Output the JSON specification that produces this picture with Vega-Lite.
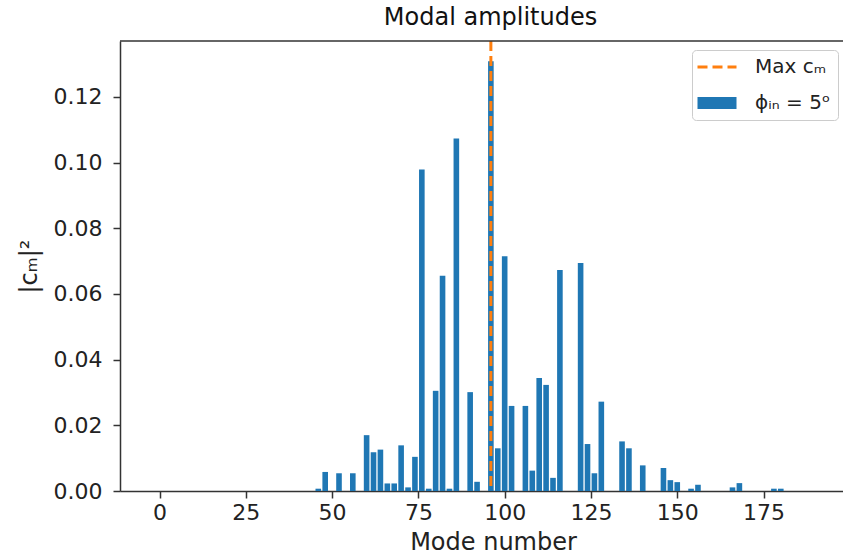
{
  "$schema": "https://vega.github.io/schema/vega-lite/v6.json",
  "autosize": {"type": "none"},
  "padding": {"left": 120, "top": 41, "right": 0, "bottom": 67},
  "width": 723,
  "height": 450,
  "background": "white",
  "title": {"text": "Modal amplitudes", "font": "DejaVu Sans", "fontSize": 24, "fontWeight": "normal", "color": "#111", "offset": 10, "dx": 9},
  "config": {
    "view": {"stroke": null},
    "axis": {"grid": false, "domainColor": "#333", "domainWidth": 1.5, "tickColor": "#333", "tickWidth": 1.5, "tickSize": 7,
      "labelFont": "DejaVu Sans", "labelFontSize": 22, "labelColor": "#222",
      "titleFont": "DejaVu Sans", "titleFontSize": 24, "titleFontWeight": "normal", "titleColor": "#222"}
  },
  "layer": [
    {
      "data": {"values": [
        {"mode": 46, "amp": 0.0007}, {"mode": 48, "amp": 0.0058}, {"mode": 52, "amp": 0.0054}, {"mode": 56, "amp": 0.0054},
        {"mode": 60, "amp": 0.0170}, {"mode": 62, "amp": 0.0118}, {"mode": 64, "amp": 0.0126}, {"mode": 66, "amp": 0.0023},
        {"mode": 68, "amp": 0.0023}, {"mode": 70, "amp": 0.0139}, {"mode": 72, "amp": 0.0011}, {"mode": 74, "amp": 0.0104},
        {"mode": 76, "amp": 0.0979}, {"mode": 78, "amp": 0.0007}, {"mode": 80, "amp": 0.0305}, {"mode": 82, "amp": 0.0655},
        {"mode": 84, "amp": 0.0007}, {"mode": 86, "amp": 0.1073}, {"mode": 90, "amp": 0.0301}, {"mode": 92, "amp": 0.0028},
        {"mode": 96, "amp": 0.1308}, {"mode": 98, "amp": 0.0130}, {"mode": 100, "amp": 0.0715}, {"mode": 102, "amp": 0.0259},
        {"mode": 106, "amp": 0.0259}, {"mode": 108, "amp": 0.0062}, {"mode": 110, "amp": 0.0344}, {"mode": 112, "amp": 0.0323},
        {"mode": 114, "amp": 0.0040}, {"mode": 116, "amp": 0.0673}, {"mode": 122, "amp": 0.0694}, {"mode": 124, "amp": 0.0143},
        {"mode": 126, "amp": 0.0054}, {"mode": 128, "amp": 0.0272}, {"mode": 134, "amp": 0.0151}, {"mode": 136, "amp": 0.0130},
        {"mode": 140, "amp": 0.0078}, {"mode": 146, "amp": 0.0070}, {"mode": 148, "amp": 0.0033}, {"mode": 150, "amp": 0.0027},
        {"mode": 154, "amp": 0.0007}, {"mode": 156, "amp": 0.0019}, {"mode": 166, "amp": 0.0011}, {"mode": 168, "amp": 0.0024},
        {"mode": 178, "amp": 0.0007}, {"mode": 180, "amp": 0.0007}
      ]},
      "mark": {"type": "bar", "size": 5.6},
      "encoding": {
        "x": {"field": "mode", "type": "quantitative", "scale": {"domain": [-10, 196.57], "nice": false, "zero": false},
          "axis": {"title": "Mode number", "values": [0, 25, 50, 75, 100, 125, 150, 175], "labelPadding": 4, "titlePadding": 7, "titleX": 373, "titleAlign": "center"}},
        "y": {"field": "amp", "type": "quantitative", "scale": {"domain": [0, 0.137], "nice": false},
          "axis": {"title": "|cₘ|²", "values": [0, 0.02, 0.04, 0.06, 0.08, 0.1, 0.12], "format": ".2f", "labelPadding": 11, "titlePadding": 12}},
        "color": {"datum": "ϕᵢₙ = 5ᵒ", "type": "nominal", "title": null,
          "scale": {"domain": ["Max cₘ", "ϕᵢₙ = 5ᵒ"], "range": ["#ff7f0e", "#1f77b4"]},
          "legend": {
            "title": null, "orient": "none", "legendX": 572, "legendY": 9,
            "padding": 7, "rowPadding": 16, "labelOffset": 28, "symbolOffset": 8,
            "symbolSize": 400, "symbolStrokeWidth": 3,
            "labelFont": "DejaVu Sans", "labelFontSize": 20, "labelColor": "#222",
            "strokeColor": "#cccccc", "fillColor": "rgba(255,255,255,0.8)", "cornerRadius": 4,
            "encode": {"symbols": {"update": {
              "shape": {"signal": "datum.value === 'Max cₘ' ? 'M-1.95,0H1.95' : 'M-1.95,-0.6H1.95V0.6H-1.95Z'"},
              "fill": {"signal": "datum.value === 'Max cₘ' ? 'transparent' : '#1f77b4'"},
              "stroke": {"signal": "datum.value === 'Max cₘ' ? '#ff7f0e' : 'transparent'"},
              "strokeDash": {"signal": "datum.value === 'Max cₘ' ? [10, 5] : [1, 0]"},
              "strokeWidth": {"signal": "datum.value === 'Max cₘ' ? 3 : 0"},
              "opacity": {"value": 1}
            }}}
          }
        }
      }
    },
    {
      "data": {"values": [{"mode": 96, "series": "Max cₘ"}]},
      "mark": {"type": "rule", "strokeDash": [10, 5], "strokeWidth": 3},
      "encoding": {
        "x": {"field": "mode", "type": "quantitative"},
        "color": {"field": "series", "type": "nominal", "title": null}
      }
    },
    {
      "data": {"values": [{"top": 0.137}]},
      "mark": {"type": "rule", "color": "#333", "strokeWidth": 1.5},
      "encoding": {"y": {"field": "top", "type": "quantitative"}}
    }
  ]
}
